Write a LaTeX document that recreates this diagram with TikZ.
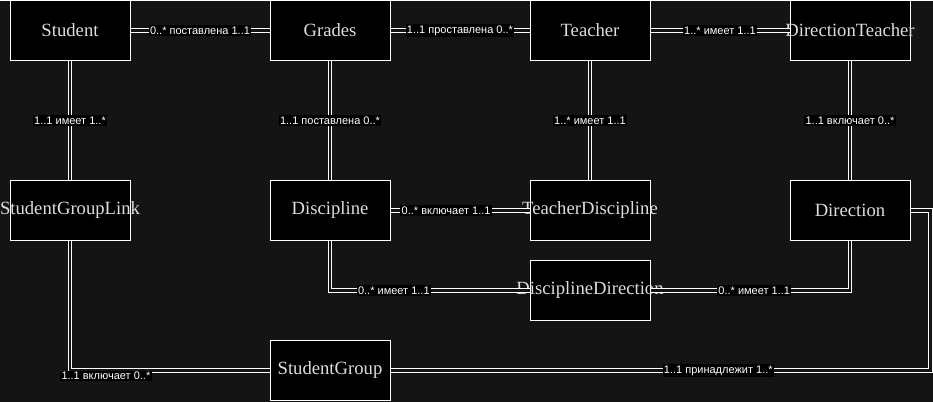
\documentclass[tikz,border=0pt]{standalone}
\usepackage{fontspec}
\setmainfont{Liberation Serif}
\setsansfont{Liberation Sans}
\definecolor{bgdark}{HTML}{141414}
\definecolor{boxtext}{HTML}{DDDDDD}
\newcommand{\boxname}[1]{\makebox[0pt]{#1}}
\tikzset{
  entity/.style={draw=white,fill=black,line width=0.75pt,minimum width=90pt,minimum height=45pt,inner sep=0pt,text=boxtext,font=\fontsize{14}{16}\selectfont},
  rel/.style={draw=white,line width=0.7pt,double=bgdark,double distance=1.8pt},
  card/.style={fill=black,text=white,inner sep=1pt,font=\sffamily\fontsize{8.25}{9}\selectfont}
}
\begin{document}
\begin{tikzpicture}[x=0.75pt,y=-0.75pt]
\fill[bgdark](0,0)rectangle(933,401);
\node[entity](student)at(70,30){\boxname{Student}};
\node[entity](grades)at(330,30){\boxname{Grades}};
\node[entity](teacher)at(590,30){\boxname{Teacher}};
\node[entity](dirteacher)at(850,30){\boxname{DirectionTeacher}};
\node[entity](sglink)at(70,210){\boxname{StudentGroupLink}};
\node[entity](discipline)at(330,210){\boxname{Discipline}};
\node[entity](teachdisc)at(590,210){\boxname{TeacherDiscipline}};
\node[entity](direction)at(850,210){\boxname{Direction}};
\node[entity](discdir)at(590,290){\boxname{DisciplineDirection}};
\node[entity](sgroup)at(330,370){\boxname{StudentGroup}};
% rows
\draw[rel](student)--node[card]{0..* поставлена 1..1}(grades);
\draw[rel](grades)--node[card]{1..1 проставлена 0..*}(teacher);
\draw[rel](teacher)--node[card]{1..* имеет 1..1}(dirteacher);
\draw[rel](discipline)--node[card,pos=0.4]{0..* включает 1..1}(teachdisc);
% columns
\draw[rel](student)--node[card]{1..1 имеет 1..*}(sglink);
\draw[rel](grades)--node[card]{1..1 поставлена 0..*}(discipline);
\draw[rel](teacher)--node[card]{1..* имеет 1..1}(teachdisc);
\draw[rel](dirteacher)--node[card]{1..1 включает 0..*}(direction);
% bends
\draw[rel](discipline.south)|-node[card,pos=0.66]{0..* имеет 1..1}(discdir.west);
\draw[rel](discdir.east)-|node[card,pos=0.26]{0..* имеет 1..1}(direction.south);
\draw[rel](sglink.south)|-node[card,pos=0.59,yshift=-4]{1..1 включает 0..*}(sgroup.west);
\draw[rel](sgroup.east)--node[card,pos=0.607]{1..1 принадлежит 1..*}++(540,0)|-(direction.east);
\end{tikzpicture}
\end{document}
